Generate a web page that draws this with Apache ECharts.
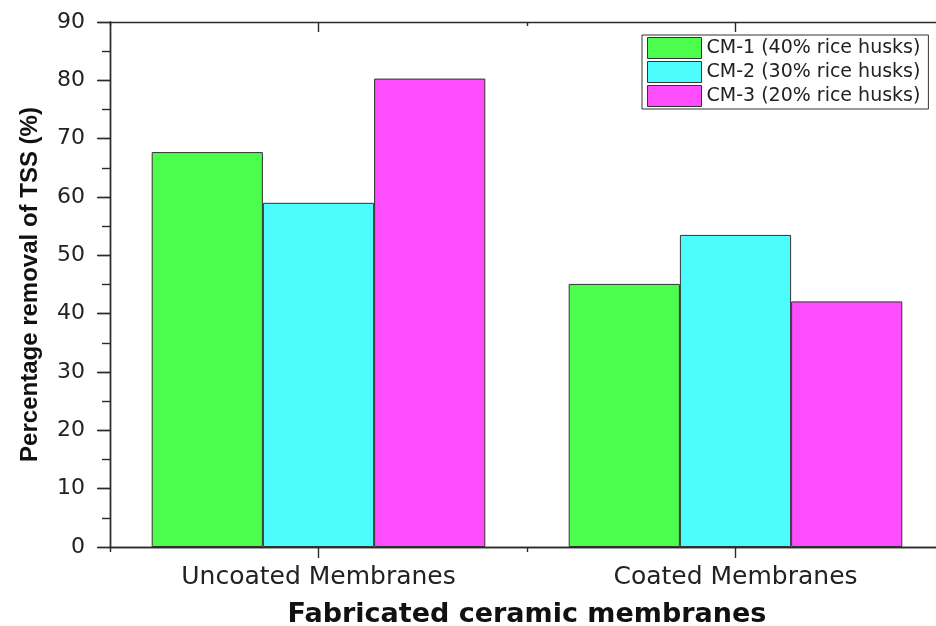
<!DOCTYPE html>
<html>
<head>
<meta charset="utf-8">
<script src="https://cdn.jsdelivr.net/npm/echarts@6/dist/echarts.min.js"></script>
<style>
html,body{margin:0;padding:0;background:#fff;}
#chart{width:936px;height:626px;}
</style>
</head>
<body>
<div id="chart"></div>
<script>
const categories = ['Uncoated Membranes', 'Coated Membranes'];
const seriesNames = ['CM-1 (40% rice husks)', 'CM-2 (30% rice husks)', 'CM-3 (20% rice husks)'];
const cm1 = [67.7, 45.1];
const cm2 = [59.0, 53.5];
const cm3 = [80.3, 42.1];
const seriesValues = [cm1, cm2, cm3];
const yMin = 0, yMax = 90, yStep = 10;
const xTitle = 'Fabricated ceramic membranes';
const yTitle = 'Percentage removal of TSS (%)';

const colors = ['#4dfd4d', '#4dfdfd', '#fd4dfd'];
const axisColor = '#2a2a2a';
const lineStyle = { color: axisColor, width: 1.4 };

const chart = echarts.init(document.getElementById('chart'), null, { renderer: 'canvas' });

const tickAxis = (pos, inside, majorLen, minorLen) => ({
  type: 'value', position: pos, min: 0, max: categories.length, interval: 1,
  axisLine: { show: true, lineStyle: lineStyle },
  axisTick: { show: true, inside: inside, length: majorLen, lineStyle: lineStyle },
  minorTick: { show: true, splitNumber: 2, length: minorLen, lineStyle: lineStyle },
  axisLabel: { show: false }, splitLine: { show: false }, minorSplitLine: { show: false }
});

const option = {
  animation: false,
  backgroundColor: '#ffffff',
  grid: { left: 110, width: 834, top: 22, bottom: 79, containLabel: false, outerBoundsMode: 'none' },
  legend: {
    orient: 'vertical', left: 642, top: 35,
    data: seriesNames,
    icon: 'rect', itemWidth: 54, itemHeight: 21, itemGap: 2,
    padding: [2, 8, 2, 5],
    borderColor: '#333', borderWidth: 1,
    itemStyle: { borderColor: '#333', borderWidth: 1 },
    textStyle: { fontFamily: 'DejaVu Sans', fontSize: 19, color: '#222' }
  },
  xAxis: [
    {
      type: 'category', position: 'bottom', data: categories,
      axisLine: { show: true, lineStyle: lineStyle },
      axisTick: { show: false },
      axisLabel: { fontFamily: 'DejaVu Sans', fontSize: 25, color: '#222', margin: 18 },
      name: xTitle, nameLocation: 'middle', nameGap: 54,
      nameTextStyle: { fontFamily: 'DejaVu Sans', fontWeight: 'bold', fontSize: 27, color: '#111' }
    },
    tickAxis('bottom', false, 5, 11),
    tickAxis('top', true, 4, 10)
  ],
  yAxis: [
    {
      type: 'value', position: 'left', min: yMin, max: yMax, interval: yStep,
      axisLine: { show: true, lineStyle: lineStyle },
      axisTick: { show: true, inside: false, length: 13, lineStyle: lineStyle },
      minorTick: { show: true, splitNumber: 2, length: 8, lineStyle: lineStyle },
      axisLabel: { fontFamily: 'DejaVu Sans', fontSize: 22, color: '#222', margin: 25 },
      splitLine: { show: false },
      name: yTitle, nameLocation: 'middle', nameGap: 68, nameRotate: 90,
      nameTextStyle: { fontFamily: 'Liberation Sans', fontWeight: 'bold', fontSize: 24, color: '#111' }
    },
    {
      type: 'value', position: 'right', min: yMin, max: yMax, interval: yStep,
      axisLine: { show: true, lineStyle: lineStyle },
      axisTick: { show: true, inside: true, length: 12, lineStyle: lineStyle },
      axisLabel: { show: false }, splitLine: { show: false }
    }
  ],
  series: seriesNames.map((name, i) => ({
    name: name, type: 'bar', xAxisIndex: 0, yAxisIndex: 0,
    data: seriesValues[i],
    barGap: '0%', barCategoryGap: '20%',
    itemStyle: { color: colors[i], borderColor: '#333', borderWidth: 1 }
  }))
};
chart.setOption(option);
</script>
</body>
</html>
